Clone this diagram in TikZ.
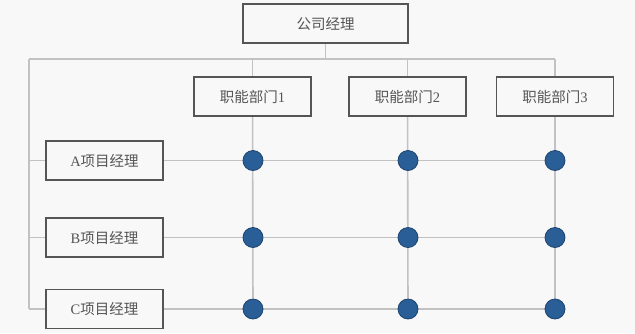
\documentclass[tikz,border=0pt]{standalone}
\usepackage{fontspec}
\setmainfont{Liberation Serif}
\newfontfamily\cjk{Noto Sans CJK SC}
\definecolor{bgc}{HTML}{F8F8F8}
\definecolor{linec}{HTML}{C2C2C2}
\definecolor{boxc}{HTML}{555555}
\definecolor{txtc}{HTML}{555555}
\definecolor{dotc}{HTML}{2A5E96}
\definecolor{dotb}{HTML}{1E4470}
\pgfdeclarelayer{bglayer}
\pgfdeclarelayer{lines}
\pgfsetlayers{bglayer,lines,main}
\tikzset{
  box/.style={draw=boxc, line width=1.3pt, fill=bgc, rectangle, inner sep=0pt,
    minimum width=117pt, minimum height=39pt, text=txtc, font=\fontsize{14.5}{16}\selectfont},
  conn/.style={draw=linec, line width=1.6pt},
  dot/.style={circle, fill=dotc, draw=dotb, line width=0.8pt, minimum size=20pt, inner sep=0pt},
}
\begin{document}
\begin{tikzpicture}[x=1pt,y=-1pt]
\begin{pgfonlayer}{bglayer}
\fill[bgc] (0,0) rectangle (635,333);
\end{pgfonlayer}
\useasboundingbox (0,0) rectangle (635,333);
\node[box, minimum width=165pt] (top) at (325.5,23.5) {{\cjk 公司经理}};
\node[box] (d1) at (252.5,96.5) {{\cjk 职能部门}1};
\node[box] (d2) at (407.5,96.5) {{\cjk 职能部门}2};
\node[box] (d3) at (555,96.5) {{\cjk 职能部门}3};
\node[box] (pa) at (104.5,160.5) {A{\cjk 项目经理}};
\node[box] (pb) at (104.5,237.5) {B{\cjk 项目经理}};
\node[box] (pc) at (104.5,309) {C{\cjk 项目经理}};
\coordinate (busL) at (29,59);
\coordinate (busR) at (555,59);
\foreach \r/\p in {a/pa,b/pb,c/pc}{
  \node[dot] (\r1) at (253,0 |- \p) {};
  \node[dot] (\r2) at (408,0 |- \p) {};
  \node[dot] (\r3) at (555,0 |- \p) {};
}
\begin{pgfonlayer}{lines}
\draw[conn] (top) -- (top |- busL);
\draw[conn] (busL) -- (busR);
\draw[conn] (busL) -- (busL |- pc);
\foreach \d/\i in {d1/1,d2/2,d3/3}{
  \draw[conn] (\d |- busL) -- (\d);
  \draw[conn] (\d) -- (c\i);
}
\foreach \r/\p in {a/pa,b/pb,c/pc}{
  \draw[conn] (busL |- \p) -- (\p);
  \draw[conn] (\p) -- (\r1) -- (\r2) -- (\r3);
}
\end{pgfonlayer}
\end{tikzpicture}
\end{document}
